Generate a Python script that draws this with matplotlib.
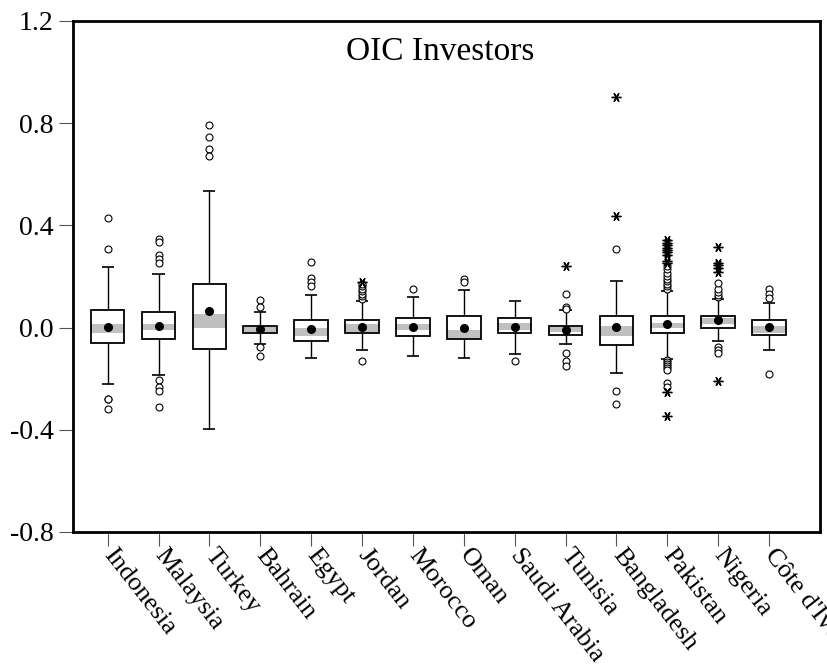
import matplotlib
matplotlib.use('Agg')
import matplotlib.pyplot as plt

plt.rcParams['font.family'] = ['Liberation Serif', 'DejaVu Serif']

# Country returns summary (OIC investors)
countries = ['Indonesia', 'Malaysia', 'Turkey', 'Bahrain', 'Egypt', 'Jordan', 'Morocco',
             'Oman', 'Saudi Arabia', 'Tunisia', 'Bangladesh', 'Pakistan', 'Nigeria',
             "Côte d'Ivoire"]

q1 = [-0.059, -0.046, -0.083, -0.022, -0.052, -0.022, -0.032,
      -0.046, -0.022, -0.029, -0.068, -0.022, -0.003, -0.029]
q3 = [0.068, 0.060, 0.171, 0.008, 0.030, 0.030, 0.036,
      0.045, 0.036, 0.007, 0.045, 0.045, 0.044, 0.030]

# shaded band inside each box
band_lo = [-0.022, -0.009, -0.002, -0.018, -0.033, -0.018, -0.009,
           -0.046, -0.009, -0.016, -0.033, -0.002, 0.014, -0.020]
band_hi = [0.014, 0.014, 0.053, 0.004, 0.000, 0.014, 0.014,
           -0.009, 0.017, 0.001, 0.006, 0.017, 0.036, 0.006]

whisk_lo = [-0.221, -0.184, -0.395, -0.065, -0.118, -0.088, -0.111,
            -0.118, -0.103, -0.066, -0.179, -0.124, -0.051, -0.088]
whisk_hi = [0.238, 0.209, 0.535, 0.060, 0.128, 0.104, 0.119,
            0.148, 0.103, 0.070, 0.184, 0.142, 0.111, 0.095]

means = [0.003, 0.005, 0.064, -0.004, -0.004, 0.004, 0.004,
         -0.003, 0.004, -0.009, 0.004, 0.013, 0.028, 0.004]

# outside values (circles) and far-out values (stars)
out_circles = [
    [0.428, 0.307, -0.278, -0.281, -0.320],
    [0.346, 0.336, 0.284, 0.267, 0.254, -0.205, -0.231, -0.247, -0.312],
    [0.792, 0.745, 0.698, 0.672],
    [0.108, 0.082, -0.077, -0.112],
    [0.256, 0.195, 0.178, 0.162],
    [0.112, 0.122, 0.132, 0.142, 0.152, 0.162, 0.170, -0.131],
    [0.150],
    [0.189, 0.180],
    [-0.131],
    [0.130, 0.079, 0.072, -0.098, -0.131, -0.152],
    [0.308, -0.248, -0.299],
    [0.152, 0.162, 0.172, 0.182, 0.192, 0.202, 0.212, 0.228, 0.242,
     -0.128, -0.136, -0.144, -0.152, -0.160, -0.166, -0.218, -0.234],
    [0.118, 0.128, 0.140, 0.152, 0.174, -0.075, -0.086, -0.098],
    [0.150, 0.131, 0.115, -0.182],
]
out_stars = [
    [], [], [], [], [],
    [0.180],
    [], [], [],
    [0.242],
    [0.437, 0.903],
    [0.252, 0.262, 0.285, 0.295, 0.305, 0.312, 0.322, 0.332, 0.342, -0.252, -0.345],
    [0.219, 0.232, 0.245, 0.254, 0.317, -0.208],
    [],
]

y_ticks = [-0.8, -0.4, 0.0, 0.4, 0.8, 1.2]

fig = plt.figure(figsize=(8.27, 6.70), dpi=100)
ax = fig.add_axes([0.0883, 0.206, 0.9032, 0.7627])

pos = list(range(1, len(countries) + 1))
box_w = 0.66
cap_w = 0.24

for i, x in enumerate(pos):
    # whiskers and caps
    ax.vlines(x, whisk_lo[i], q1[i], color='black', lw=1.0, zorder=1)
    ax.vlines(x, q3[i], whisk_hi[i], color='black', lw=1.0, zorder=1)
    ax.hlines([whisk_lo[i], whisk_hi[i]], x - cap_w / 2, x + cap_w / 2,
              color='black', lw=1.2, zorder=1)
    # box: white fill, grey band, outline
    ax.bar(x, q3[i] - q1[i], bottom=q1[i], width=box_w, color='white',
           edgecolor='none', zorder=2)
    ax.bar(x, band_hi[i] - band_lo[i], bottom=band_lo[i], width=box_w,
           color='#c0c0c0', edgecolor='none', zorder=3)
    ax.bar(x, q3[i] - q1[i], bottom=q1[i], width=box_w, fill=False,
           edgecolor='black', lw=1.3, zorder=4)
    # outliers
    if out_circles[i]:
        ax.plot([x] * len(out_circles[i]), out_circles[i], 'o', ms=5,
                mfc='white', mec='black', mew=0.8, zorder=5)
    if out_stars[i]:
        ax.plot([x] * len(out_stars[i]), out_stars[i], marker=(6, 2, 90),
                ls='none', ms=7, mec='black', mew=1.0, zorder=5)
    # mean
    ax.plot(x, means[i], 'o', ms=5.5, color='black', zorder=6)

ax.set_xlim(0.32, 15.0)
ax.set_ylim(-0.8, 1.2)
ax.set_yticks(y_ticks)
ax.set_yticklabels([f'{t:.1f}' for t in y_ticks])
ax.set_xticks(pos)
ax.set_xticklabels(countries, rotation=-52, ha='left', va='center',
                   rotation_mode='anchor')

ax.tick_params(axis='both', labelsize=20, color='#555555', width=0.8,
               length=10, direction='out')
ax.tick_params(axis='x', labelsize=19, pad=4)
ax.tick_params(axis='y', pad=4)

for sp in ax.spines.values():
    sp.set_linewidth(2.0)

ax.text(0.491, 0.94, 'OIC Investors', transform=ax.transAxes, ha='center',
        va='center', fontsize=24)

fig.savefig('out.png', dpi=100)
